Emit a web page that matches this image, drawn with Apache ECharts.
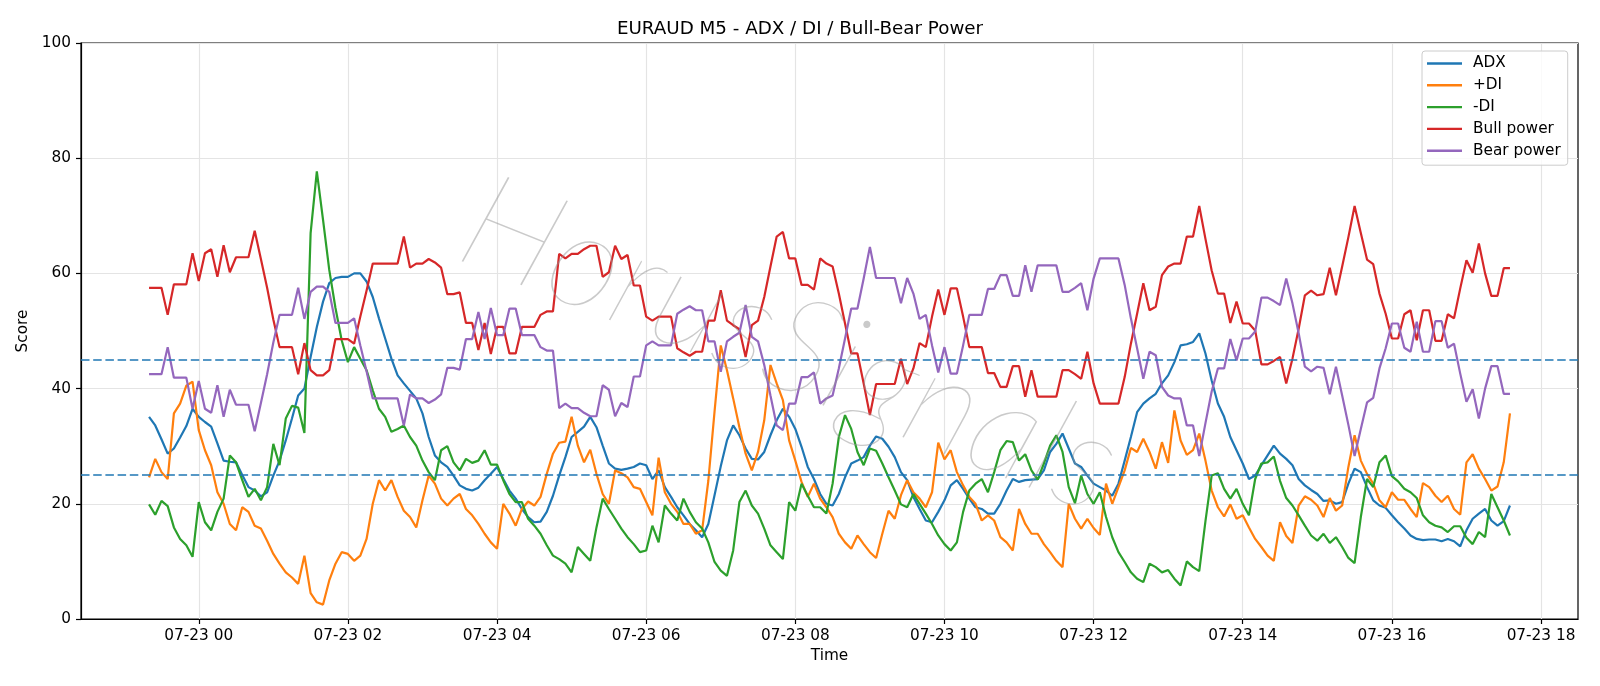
<!DOCTYPE html>
<html>
<head>
<meta charset="utf-8">
<title>EURAUD M5 - ADX / DI / Bull-Bear Power</title>
<script src="https://cdn.jsdelivr.net/npm/echarts@6/dist/echarts.min.js"></script>
<style>
  html, body { margin: 0; padding: 0; background: #fff; }
  #chart { width: 1600px; height: 686px; }
</style>
</head>
<body>
<div id="chart"></div>
<script>
// M5 bars, first bar at 07-22 23:20
var startTime = new Date(2025, 6, 22, 23, 20).getTime();
var stepMs = 5 * 60 * 1000;

var adx = [
  35.1,33.6,31.2,28.7,29.6,31.5,33.5,36.5,35.1,34.2,
  33.4,30.5,27.5,27.3,27.2,25.0,22.9,22.3,21.3,22.0,
  24.9,27.5,31.0,34.8,38.8,40.0,45.5,50.7,55.1,58.3,
  59.2,59.4,59.4,60.0,60.0,58.6,55.9,52.2,48.7,45.2,
  42.3,40.9,39.6,38.3,35.7,31.6,28.4,27.2,26.4,24.9,
  23.2,22.6,22.3,22.8,24.1,25.2,26.4,24.3,22.3,20.9,
  19.1,17.7,16.8,16.9,18.6,21.4,24.9,28.1,31.6,32.5,
  33.4,35.1,33.3,30.1,27.0,26.1,25.9,26.1,26.4,27.0,
  26.7,24.3,25.8,22.9,21.2,19.4,18.0,16.5,15.4,14.2,
  16.5,21.5,26.5,31.0,33.6,31.9,29.6,27.8,27.7,29.0,
  31.9,34.5,36.5,35.1,33.0,29.9,26.4,24.3,21.7,20.0,
  19.7,21.7,24.6,27.0,27.5,28.1,30.1,31.7,31.3,29.9,
  28.1,25.5,24.1,21.2,19.1,17.1,16.8,18.6,20.6,23.2,
  24.1,22.6,20.9,19.4,19.1,18.3,18.3,20.0,22.3,24.3,
  23.8,24.1,24.2,24.3,25.8,29.0,30.4,32.2,29.6,27.0,
  26.4,24.9,23.5,22.9,22.3,21.4,23.5,27.5,31.6,35.9,
  37.4,38.3,39.1,40.9,42.3,44.6,47.5,47.7,48.1,49.6,
  46.1,41.4,37.4,35.1,31.6,29.3,27.0,24.3,24.9,26.7,
  28.4,30.1,28.7,27.8,26.7,24.3,23.2,22.4,21.7,20.5,
  20.6,20.0,20.3,23.5,26.1,25.5,22.9,20.6,19.7,19.3,
  18.0,16.8,15.7,14.5,13.9,13.7,13.8,13.8,13.5,13.9,
  13.5,12.6,15.4,17.4,18.3,19.1,17.1,16.2,17.0,19.7
];

var plusDI = [
  24.6,27.8,25.5,24.3,35.7,37.4,40.5,41.2,32.8,29.3,
  26.7,22.0,20.0,16.5,15.4,19.4,18.6,16.2,15.7,13.6,
  11.3,9.6,8.1,7.2,6.1,11.0,4.5,2.9,2.5,6.7,
  9.6,11.6,11.3,10.1,11.0,13.9,20.0,24.1,22.3,24.1,
  21.2,18.8,17.7,15.9,20.6,24.9,23.5,20.9,19.7,20.9,
  21.7,19.1,18.0,16.5,14.8,13.3,12.2,20.0,18.3,16.2,
  19.1,20.4,19.7,21.2,25.2,28.7,30.6,30.8,35.1,30.1,
  27.2,29.4,25.2,21.7,20.0,25.8,25.3,24.6,22.9,22.6,
  20.3,18.0,28.0,22.0,20.0,18.6,16.5,16.5,14.8,15.4,
  24.0,36.0,47.5,43.2,38.3,33.3,28.7,25.8,29.0,34.5,
  44.1,40.9,38.0,31.0,27.5,23.8,21.2,23.5,20.9,19.4,
  17.7,14.8,13.3,12.2,14.5,13.0,11.6,10.6,14.8,18.8,
  17.4,21.5,24.1,22.0,20.9,19.4,22.0,30.6,27.7,29.3,
  25.5,23.2,21.2,20.0,17.1,18.0,17.1,14.2,13.3,11.9,
  19.1,16.5,14.8,14.8,13.0,11.6,10.1,9.0,20.0,17.4,
  15.7,17.4,15.8,14.6,23.5,20.0,22.9,25.8,29.7,29.0,
  31.3,29.0,26.1,30.7,27.1,36.2,31.0,28.5,29.3,32.2,
  27.5,22.3,19.4,17.8,19.9,17.4,18.0,15.9,13.9,12.5,
  11.0,10.1,16.8,14.4,13.2,19.7,21.3,20.7,19.7,17.7,
  21.0,18.8,19.7,26.4,31.9,27.5,25.2,23.5,20.6,19.4,
  22.0,20.7,20.7,19.1,17.7,23.6,22.9,21.4,20.3,21.4,
  19.1,18.1,27.2,28.6,26.1,24.3,22.3,23.0,27.2,35.7
];

var minusDI = [
  19.9,18.1,20.5,19.6,15.9,13.9,12.8,10.8,20.3,16.8,
  15.4,18.6,20.9,28.4,27.2,24.1,21.2,22.6,20.6,22.9,
  30.4,26.7,34.8,37.0,36.7,32.3,67.0,77.7,69.3,60.6,
  54.0,48.4,44.6,47.2,45.2,43.2,39.7,36.5,35.1,32.5,
  33.0,33.6,31.6,30.1,27.5,25.5,24.1,29.3,30.0,27.2,
  25.8,27.8,27.1,27.5,29.3,26.8,26.8,24.1,21.7,20.3,
  20.3,17.4,16.2,14.8,12.8,11.0,10.4,9.6,8.1,12.5,
  11.3,10.1,15.9,20.9,19.1,17.4,15.7,14.2,13.0,11.6,
  11.9,16.2,13.3,19.7,18.3,17.1,20.9,18.6,16.8,15.7,
  13.3,9.9,8.4,7.5,11.9,20.3,22.3,19.7,18.3,15.7,
  12.8,11.6,10.4,20.3,18.8,23.5,21.4,19.4,19.4,18.3,
  23.5,31.6,35.4,33.0,29.0,26.7,29.6,29.2,27.0,24.6,
  22.3,19.9,19.4,21.7,20.0,18.3,16.5,14.5,13.0,11.9,
  13.3,18.6,22.3,23.5,24.3,22.0,25.5,29.3,30.9,30.7,
  27.5,28.6,25.8,24.2,27.0,30.1,31.9,29.0,22.9,20.1,
  24.9,21.7,20.0,22.0,17.7,14.2,11.6,9.9,8.1,7.0,
  6.4,9.6,9.0,8.1,8.5,7.0,5.8,10.0,9.0,8.3,
  17.0,24.9,25.3,22.6,20.9,22.6,20.0,18.0,24.3,27.0,
  27.2,28.2,24.0,21.0,19.7,18.0,16.2,14.5,13.6,14.8,
  13.2,14.2,12.5,10.6,9.7,17.7,24.3,22.9,27.2,28.4,
  24.8,23.9,22.6,22.0,21.0,18.0,16.8,16.2,15.9,15.1,
  16.1,16.1,14.1,13.0,15.1,14.2,21.7,19.4,17.1,14.5
];

var bullPower = [
  57.5,57.5,57.5,52.8,58.1,58.1,58.1,63.5,58.7,63.5,
  64.2,59.4,64.9,60.2,62.8,62.8,62.8,67.4,62.5,57.5,
  52.0,47.2,47.2,47.2,42.5,47.9,43.2,42.3,42.3,43.2,
  48.6,48.6,48.6,47.8,52.5,57.0,61.7,61.7,61.7,61.7,
  61.7,66.4,61.0,61.7,61.7,62.5,61.9,61.0,56.4,56.4,
  56.7,51.4,51.4,46.7,51.4,46.0,50.7,50.7,46.1,46.1,
  50.7,50.7,50.7,52.8,53.4,53.4,63.4,62.6,63.4,63.4,
  64.2,64.8,64.8,59.4,60.2,64.8,62.5,63.2,57.9,57.9,
  52.5,51.8,52.5,52.5,52.5,47.0,46.3,45.7,46.4,46.4,
  51.8,51.8,57.1,51.8,51.0,50.3,45.5,51.0,51.8,55.9,
  61.2,66.4,67.2,62.6,62.6,58.0,58.0,57.2,62.6,61.7,
  61.2,56.5,51.3,46.1,46.1,40.9,35.4,40.8,40.8,40.8,
  40.8,45.2,40.8,43.5,47.9,47.2,52.5,57.2,52.8,57.4,
  57.4,52.5,47.2,47.2,47.2,42.7,42.7,40.3,40.3,43.9,
  43.9,38.6,43.2,38.6,38.6,38.6,38.6,43.2,43.2,42.5,
  41.7,46.4,40.9,37.4,37.4,37.4,37.4,42.0,47.8,53.0,
  58.3,53.6,54.2,59.7,61.2,61.7,61.7,66.4,66.4,71.7,
  66.0,60.5,56.5,56.5,51.4,55.1,51.3,51.3,50.1,44.2,
  44.2,44.8,45.5,40.9,45.2,50.4,56.2,57.0,56.2,56.4,
  61.0,56.2,61.2,66.3,71.7,67.0,62.4,61.6,56.5,53.0,
  48.7,48.7,52.9,53.6,48.4,53.6,53.6,48.3,48.3,52.9,
  52.2,57.4,62.3,60.1,65.2,60.0,56.1,56.1,60.9,60.9
];

var bearPower = [
  42.5,42.5,42.5,47.2,41.9,41.9,41.9,36.5,41.3,36.5,
  35.8,40.6,35.1,39.8,37.2,37.2,37.2,32.6,37.5,42.5,
  48.0,52.8,52.8,52.8,57.5,52.1,56.8,57.7,57.7,56.8,
  51.4,51.4,51.4,52.2,47.5,43.0,38.3,38.3,38.3,38.3,
  38.3,33.6,39.0,38.3,38.3,37.5,38.1,39.0,43.6,43.6,
  43.3,48.6,48.6,53.3,48.6,54.0,49.3,49.3,53.9,53.9,
  49.3,49.3,49.3,47.2,46.6,46.6,36.6,37.4,36.6,36.6,
  35.8,35.2,35.2,40.6,39.8,35.2,37.5,36.8,42.1,42.1,
  47.5,48.2,47.5,47.5,47.5,53.0,53.7,54.3,53.6,53.6,
  48.2,48.2,42.9,48.2,49.0,49.7,54.5,49.0,48.2,44.1,
  38.8,33.6,32.8,37.4,37.4,42.0,42.0,42.8,37.4,38.3,
  38.8,43.5,48.7,53.9,53.9,59.1,64.6,59.2,59.2,59.2,
  59.2,54.8,59.2,56.5,52.1,52.8,47.5,42.8,47.2,42.6,
  42.6,47.5,52.8,52.8,52.8,57.3,57.3,59.7,59.7,56.1,
  56.1,61.4,56.8,61.4,61.4,61.4,61.4,56.8,56.8,57.5,
  58.3,53.6,59.1,62.6,62.6,62.6,62.6,58.0,52.2,47.0,
  41.7,46.4,45.8,40.3,38.8,38.3,38.3,33.6,33.6,28.3,
  34.0,39.5,43.5,43.5,48.6,44.9,48.7,48.7,49.9,55.8,
  55.8,55.2,54.5,59.1,54.8,49.6,43.8,43.0,43.8,43.6,
  39.0,43.8,38.8,33.7,28.3,33.0,37.6,38.4,43.5,47.0,
  51.3,51.3,47.1,46.4,51.6,46.4,46.4,51.7,51.7,47.1,
  47.8,42.6,37.7,39.9,34.8,40.0,43.9,43.9,39.1,39.1
];

var thresholds = [25, 45];
var yTicks = [0, 20, 40, 60, 80, 100];
// x ticks: 07-23 00 .. 07-23 18, every 2 hours
var xTickHours = [0, 2, 4, 6, 8, 10, 12, 14, 16, 18];

var times = adx.map(function (v, i) { return startTime + i * stepMs; });
var xTicks = xTickHours.map(function (h) { return new Date(2025, 6, 23, h, 0).getTime(); });
function pairs(values) {
  return values.map(function (v, i) { return [times[i], v]; });
}
function pad(n) { return n < 10 ? '0' + n : '' + n; }

var FONT = 'DejaVu Sans';
var chart = echarts.init(document.getElementById('chart'));

function lineSeries(name, values, color) {
  return {
    name: name,
    type: 'line',
    data: pairs(values),
    showSymbol: false,
    symbol: 'none',
    color: color,
    lineStyle: { color: color, width: 2.2 },
    emphasis: { disabled: true }
  };
}

var series = [
  lineSeries('ADX', adx, '#1f77b4'),
  lineSeries('+DI', plusDI, '#ff7f0e'),
  lineSeries('-DI', minusDI, '#2ca02c'),
  lineSeries('Bull power', bullPower, '#d62728'),
  lineSeries('Bear power', bearPower, '#9467bd')
];
series[0].markLine = {
  silent: true,
  symbol: 'none',
  label: { show: false },
  lineStyle: { color: '#1f77b4', type: [8.5, 3.7], width: 1.6 },
  data: thresholds.map(function (t) { return { yAxis: t }; })
};

var option = {
  animation: false,
  backgroundColor: '#fff',
  title: {
    text: 'EURAUD M5 - ADX / DI / Bull-Bear Power',
    left: 'center',
    top: 15,
    textStyle: { fontFamily: FONT, fontSize: 18.3, fontWeight: 'normal', color: '#000' }
  },
  grid: {
    left: 81, right: 22, top: 43, bottom: 67,
    show: true, borderColor: '#000', borderWidth: 1.2
  },
  legend: {
    orient: 'vertical',
    left: 1422,
    top: 51,
    padding: [5, 7, 7, 5],
    itemWidth: 35,
    itemHeight: 2.4,
    itemGap: 6.8,
    icon: 'rect',
    backgroundColor: 'rgba(255,255,255,0.8)',
    borderColor: '#cccccc',
    borderWidth: 1,
    borderRadius: 3,
    textStyle: { fontFamily: FONT, fontSize: 15.3, color: '#000', padding: [0, 0, 0, 6] },
    data: ['ADX', '+DI', '-DI', 'Bull power', 'Bear power']
  },
  xAxis: {
    type: 'value',
    min: new Date(2025, 6, 22, 22, 25, 15).getTime(),
    max: new Date(2025, 6, 23, 18, 29, 45).getTime(),
    name: 'Time',
    nameLocation: 'middle',
    nameGap: 30,
    nameTextStyle: { fontFamily: FONT, fontSize: 15.3, color: '#000' },
    axisLine: { show: true, onZero: false, lineStyle: { color: '#000', width: 1.2 } },
    axisTick: { show: true, length: 5, customValues: xTicks, lineStyle: { color: '#000', width: 1.2 } },
    axisLabel: {
      margin: 10,
      customValues: xTicks,
      fontFamily: FONT, fontSize: 15.3, color: '#000',
      formatter: function (val) {
        var d = new Date(val);
        return pad(d.getMonth() + 1) + '-' + pad(d.getDate()) + ' ' + pad(d.getHours());
      }
    },
    splitLine: { show: true, lineStyle: { color: '#e4e4e4', width: 1.2 } }
  },
  yAxis: {
    type: 'value',
    min: yTicks[0],
    max: yTicks[yTicks.length - 1],
    interval: 20,
    name: 'Score',
    nameLocation: 'middle',
    nameGap: 47,
    nameTextStyle: { fontFamily: FONT, fontSize: 15.3, color: '#000' },
    axisLine: { show: true, lineStyle: { color: '#000', width: 1.2 } },
    axisTick: { show: true, length: 5, lineStyle: { color: '#000', width: 1.2 } },
    axisLabel: { margin: 10, fontFamily: FONT, fontSize: 15.3, color: '#000' },
    splitLine: { show: true, lineStyle: { color: '#e4e4e4', width: 1.2 } }
  },
  graphic: [{
    type: 'text',
    x: 790,
    y: 345,
    rotation: -0.38,
    silent: true,
    z: 100,
    style: {
      text: 'HorusSignals',
      font: 'italic 200 136px Lato',
      fill: 'rgba(150,150,150,0.5)',
      align: 'center',
      verticalAlign: 'middle'
    }
  }],
  series: series
};

chart.setOption(option);
</script>
</body>
</html>
